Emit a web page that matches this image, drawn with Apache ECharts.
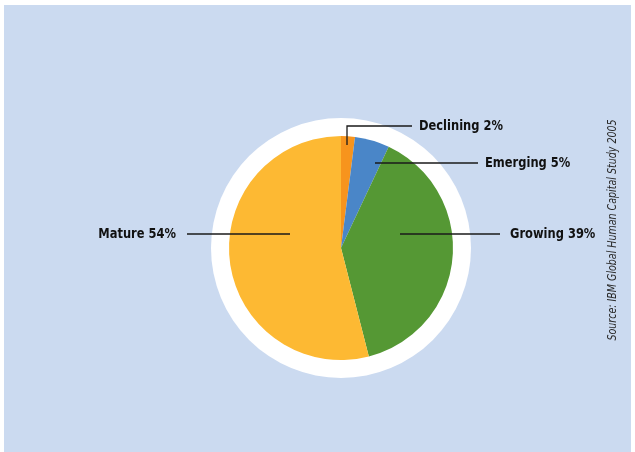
<!DOCTYPE html>
<html>
<head>
<meta charset="utf-8">
<style>
  html, body { margin: 0; padding: 0; background: #ffffff; }
  #chart { width: 635px; height: 452px; }
</style>
<script src="https://cdn.jsdelivr.net/npm/echarts@6/dist/echarts.min.js"></script>
</head>
<body>
<div id="chart"></div>
<script>
// Stages of organisations, share in percent
const stages = ['Declining', 'Emerging', 'Growing', 'Mature'];
const shares = [2, 5, 39, 54];
const stageColors = ['#f7941d', '#4a86c8', '#559834', '#fdb933'];
const sourceNote = 'Source: IBM Global Human Capital Study 2005';

const labelFont = '"Liberation Sans Narrow", "DejaVu Sans Condensed", "Arial Narrow", sans-serif';

// Where each label sits and how its leader line runs
const labelPlacement = {
  Declining: { x: 419, y: 126, align: 'left',  line: [[347, 145], [347, 126], [412, 126]] },
  Emerging:  { x: 485, y: 163, align: 'left',  line: [[375, 163], [478, 163]] },
  Growing:   { x: 510, y: 234, align: 'left',  line: [[400, 234], [500, 234]] },
  Mature:    { x: 176, y: 234, align: 'right', line: [[290, 234], [187, 234]] }
};

const chart = echarts.init(document.getElementById('chart'), null, { renderer: 'canvas' });

const graphics = [
  {
    type: 'rect',
    z: -10,
    shape: { x: 4, y: 5, width: 627, height: 447 },
    style: { fill: '#cbdaf0' },
    silent: true
  },
  {
    type: 'text',
    x: 613,
    y: 230,
    rotation: Math.PI / 2,
    scaleX: 0.88,
    style: {
      text: sourceNote,
      fill: '#2a2a2a',
      font: 'italic 12px ' + labelFont,
      align: 'center',
      verticalAlign: 'middle'
    }
  }
];

// Value labels with their leader lines, drawn on top of the slices
stages.forEach((s, i) => {
  const p = labelPlacement[s];
  graphics.push({
    type: 'polyline',
    z: 10,
    silent: true,
    shape: { points: p.line },
    style: { stroke: '#1a1a1a', lineWidth: 1.3, fill: null }
  });
  graphics.push({
    type: 'text',
    z: 10,
    x: p.x,
    y: p.y,
    scaleX: 0.88,
    style: {
      text: s + ' ' + shares[i] + '%',
      fill: '#111111',
      font: 'bold 14.5px ' + labelFont,
      align: p.align,
      verticalAlign: 'middle'
    }
  });
});

chart.setOption({
  animation: false,
  backgroundColor: '#ffffff',
  graphic: graphics,
  series: [
    {
      // white ring behind the pie
      type: 'pie',
      silent: true,
      z: 1,
      center: [341, 248],
      radius: [0, 130],
      label: { show: false },
      labelLine: { show: false },
      itemStyle: { color: '#ffffff' },
      data: [{ value: 1, name: 'ring' }]
    },
    {
      type: 'pie',
      z: 2,
      center: [341, 248],
      radius: [0, 112],
      startAngle: 90,
      clockwise: true,
      itemStyle: { borderWidth: 0 },
      label: { show: false },
      labelLine: { show: false },
      data: stages.map((s, i) => ({ name: s, value: shares[i], itemStyle: { color: stageColors[i] } }))
    }
  ]
});
</script>
</body>
</html>
